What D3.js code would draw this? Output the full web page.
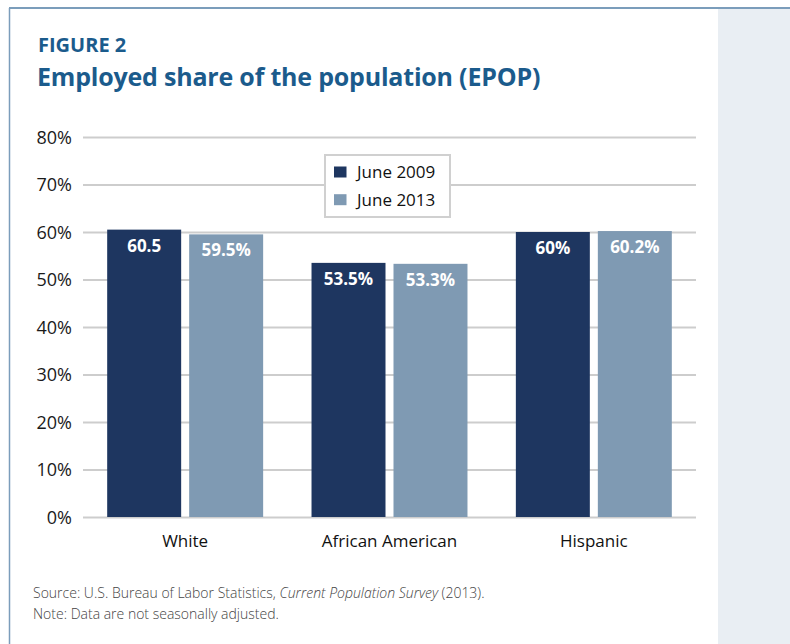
<!DOCTYPE html>
<html>
<head>
<meta charset="utf-8">
<script src="https://cdn.jsdelivr.net/npm/d3@7"></script>
<style>
  html, body { margin: 0; padding: 0; background: #ffffff; }
  svg { display: block; font-family: "Open Sans", "DejaVu Sans", sans-serif; }
</style>
</head>
<body>
<svg id="chart" width="790" height="644"></svg>
<script>
// Employment-to-population ratio by group, June 2009 vs June 2013
const categories = ["White", "African American", "Hispanic"];
const seriesNames = ["June 2009", "June 2013"];
const values2009 = [60.5, 53.5, 60.0];
const values2013 = [59.5, 53.3, 60.2];
const labels2009 = ["60.5", "53.5%", "60%"];
const labels2013 = ["59.5%", "53.3%", "60.2%"];
const yTicks = [0, 10, 20, 30, 40, 50, 60, 70, 80];
const seriesColors = ["#1e3660", "#7f9ab3"];

const rows = categories.map((c, i) => ({
  category: c,
  bars: [
    { series: seriesNames[0], value: values2009[i], label: labels2009[i] },
    { series: seriesNames[1], value: values2013[i], label: labels2013[i] }
  ]
}));

const svg = d3.select("#chart");

// side panel and frame
svg.append("rect").attr("x", 718).attr("y", 9).attr("width", 72).attr("height", 635)
  .attr("fill", "#e9eef3");
svg.append("line").attr("x1", 9).attr("x2", 790).attr("y1", 8).attr("y2", 8)
  .attr("stroke", "#7b9dbb").attr("stroke-width", 2);
svg.append("line").attr("x1", 9.5).attr("x2", 9.5).attr("y1", 8).attr("y2", 644)
  .attr("stroke", "#7b9dbb").attr("stroke-width", 1.5);

// headings
svg.append("text").attr("x", 38).attr("y", 52)
  .attr("fill", "#1b5b8c").attr("font-size", 20).attr("font-weight", 700)
  .text("FIGURE 2");
svg.append("text").attr("x", 37).attr("y", 86)
  .attr("fill", "#1b5b8c").attr("font-size", 25).attr("font-weight", 700)
  .attr("letter-spacing", -0.2)
  .text("Employed share of the population (EPOP)");

// scales
const plotLeft = 83, plotRight = 696, plotTop = 137, plotBottom = 517;
const y = d3.scaleLinear().domain([0, 80]).range([plotBottom, plotTop]);
const x0 = d3.scaleBand().domain(categories).range([plotLeft, plotRight]).padding(0);
const x1 = d3.scaleBand().domain(seriesNames).range([0, x0.bandwidth()])
  .paddingInner(0.0976).paddingOuter(0.295);
const color = d3.scaleOrdinal().domain(seriesNames).range(seriesColors);

// gridlines + y labels
const yAxis = d3.axisLeft(y)
  .tickValues(yTicks)
  .tickSize(-(plotRight - plotLeft))
  .tickPadding(11)
  .tickFormat(d => d + "%");
const gy = svg.append("g").attr("transform", `translate(${plotLeft},0)`).call(yAxis);
gy.select(".domain").remove();
gy.selectAll(".tick line").attr("stroke", "#cdcdcd").attr("stroke-width", 2);
gy.selectAll(".tick text").attr("fill", "#1a1a1a").attr("font-size", 18)
  .attr("font-family", "'Open Sans', sans-serif").attr("dy", "0.35em");

// bars
const groups = svg.append("g").selectAll("g").data(rows).join("g")
  .attr("transform", d => `translate(${x0(d.category)},0)`);
groups.selectAll("rect").data(d => d.bars).join("rect")
  .attr("x", d => x1(d.series))
  .attr("y", d => y(d.value))
  .attr("width", x1.bandwidth())
  .attr("height", d => y(0) - y(d.value))
  .attr("fill", d => color(d.series));
groups.selectAll("text").data(d => d.bars).join("text")
  .attr("x", d => x1(d.series) + x1.bandwidth() / 2)
  .attr("y", d => y(d.value) + 22)
  .attr("text-anchor", "middle")
  .attr("fill", "#ffffff").attr("font-size", 17).attr("font-weight", 700)
  .text(d => d.label);

// category labels
const xAxis = d3.axisBottom(x0).tickSize(0).tickPadding(0);
const gx = svg.append("g").attr("transform", `translate(0,${plotBottom})`).call(xAxis);
gx.select(".domain").remove();
gx.selectAll(".tick text").attr("y", 30).attr("dy", 0)
  .attr("fill", "#111").attr("font-size", 17).attr("font-family", "'Open Sans', sans-serif");

// legend
const legend = svg.append("g").attr("transform", "translate(324,154)");
legend.append("rect").attr("x", 1).attr("y", 1).attr("width", 125).attr("height", 62)
  .attr("fill", "#fff").attr("stroke", "#d0d0d0").attr("stroke-width", 2);
const items = legend.selectAll("g.item").data(seriesNames).join("g").attr("class", "item")
  .attr("transform", (d, i) => `translate(0,${i * 27.7})`);
items.append("rect").attr("x", 10).attr("y", 12.5).attr("width", 12.5).attr("height", 11)
  .attr("fill", d => color(d));
items.append("text").attr("x", 33).attr("y", 24).attr("font-size", 17).attr("fill", "#111")
  .text(d => d);

// source note
const notes = svg.append("g").attr("font-size", 14).attr("fill", "#444").attr("font-weight", 300);
const src = notes.append("text").attr("x", 33).attr("y", 598);
src.append("tspan").text("Source: U.S. Bureau of Labor Statistics, ");
src.append("tspan").attr("font-style", "italic").text("Current Population Survey");
src.append("tspan").text(" (2013).");
notes.append("text").attr("x", 33).attr("y", 619).text("Note: Data are not seasonally adjusted.");
</script>
</body>
</html>
